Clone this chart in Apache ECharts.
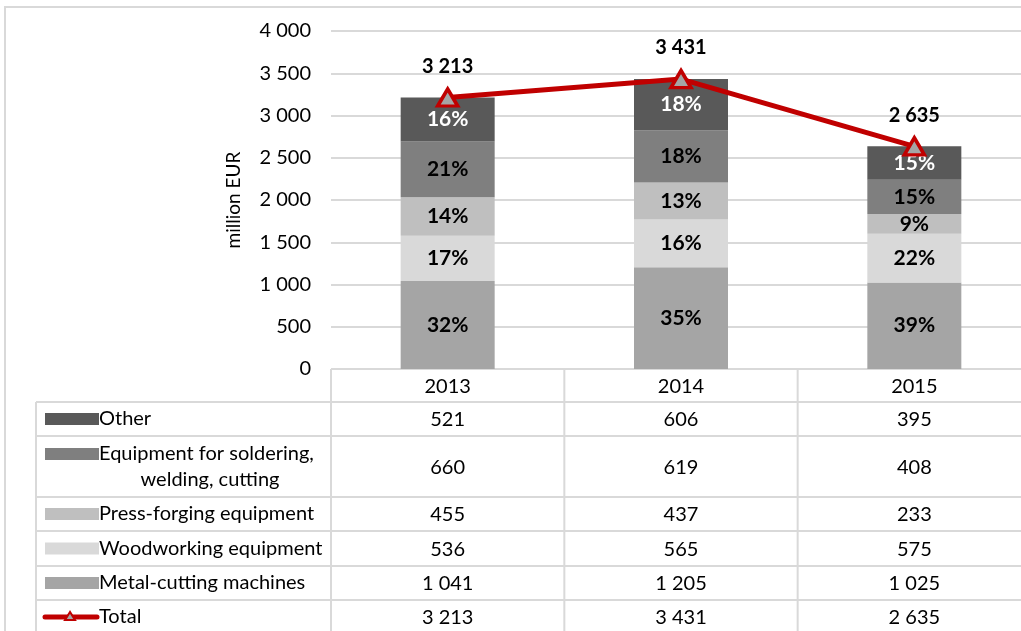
<!DOCTYPE html>
<html><head><meta charset="utf-8">
<script src="https://cdn.jsdelivr.net/npm/echarts@6/dist/echarts.min.js"></script>
<style>html,body{margin:0;padding:0;background:#fff}#c{width:1021px;height:631px}</style>
</head><body><div id="c"></div>
<script>
var years = ['2013', '2014', '2015'];
var other = [521, 606, 395];
var soldering = [660, 619, 408];
var pressForging = [455, 437, 233];
var woodworking = [536, 565, 575];
var metalCutting = [1041, 1205, 1025];
var total = [3213, 3431, 2635];
var seriesNames = ['Other', 'Equipment for soldering, welding, cutting', 'Press-forging equipment', 'Woodworking equipment', 'Metal-cutting machines', 'Total'];
var yTicks = [0, 500, 1000, 1500, 2000, 2500, 3000, 3500, 4000];

var FONT = 'Lato, "Open Sans", sans-serif';
var FS = 20;
var GRID_C = '#d9d9d9';
var colors = {other:'#595959', sold:'#7f7f7f', press:'#bfbfbf', wood:'#d9d9d9', metal:'#a5a5a5', total:'#c00000'};

function fmt(n){ return String(n).replace(/\B(?=(\d{3})+(?!\d))/g, '\u00a0'); }
function pct(arr){ return function(p){ return Math.round(arr[p.dataIndex] / total[p.dataIndex] * 100) + '%'; }; }

var chart = echarts.init(document.getElementById('c'), null, {renderer:'canvas'});

function barSeries(name, data, color, labelColor){
  return {
    name: name, type: 'bar', stack: 'a', data: data, barWidth: 94,
    itemStyle: {color: color},
    label: {show: true, position: 'inside', formatter: pct(data), color: labelColor,
            fontFamily: FONT, fontWeight: 'bold', fontSize: 21},
    emphasis: {disabled: true}, z: 2
  };
}

chart.setOption({
  animation: false,
  grid: {left: 331, top: 31, width: 700, height: 338, containLabel: false, outerBoundsMode: 'none'},
  xAxis: {type: 'category', data: years, axisLine: {show: false}, axisTick: {show: false},
          axisLabel: {show: false}},
  yAxis: {type: 'value', min: yTicks[0], max: yTicks[yTicks.length - 1], interval: yTicks[1] - yTicks[0],
          name: 'million EUR', nameLocation: 'middle', nameGap: 88, nameRotate: 90,
          nameTextStyle: {fontFamily: FONT, fontSize: 19, color: '#000'},
          axisLine: {show: false}, axisTick: {show: false},
          axisLabel: {fontFamily: FONT, fontSize: FS, color: '#000', margin: 20,
                      formatter: function(v){ return fmt(v); }},
          splitLine: {lineStyle: {color: GRID_C, width: 2}}},
  series: [
    barSeries(seriesNames[4], metalCutting, colors.metal, '#000'),
    barSeries(seriesNames[3], woodworking, colors.wood, '#000'),
    barSeries(seriesNames[2], pressForging, colors.press, '#000'),
    barSeries(seriesNames[1], soldering, colors.sold, '#000'),
    barSeries(seriesNames[0], other, colors.other, '#fff'),
    {name: seriesNames[5], type: 'line', data: total, z: 5,
     lineStyle: {color: colors.total, width: 5},
     symbol: 'triangle', symbolSize: [20, 17],
     itemStyle: {color: '#a5a5a5', borderColor: colors.total, borderWidth: 3.5},
     label: {show: true, position: 'top', distance: 11, formatter: function(p){ return fmt(p.value); },
             fontFamily: FONT, fontWeight: 'bold', fontSize: 20, color: '#000'},
     emphasis: {disabled: true}}
  ]
});

// ---- data table below the chart ----
var centers = years.map(function(y){ return chart.convertToPixel({xAxisIndex: 0}, y); });
var colW = centers[1] - centers[0];
var axisX = centers[0] - colW / 2;
var rightX = centers[2] + colW / 2;
var zeroY = chart.convertToPixel({yAxisIndex: 0}, 0);
var tableLeft = 36;
var headerBottom = 402;
var rowH = [34, 61, 34, 35, 34, 34];
var rowData = [other, soldering, pressForging, woodworking, metalCutting, total];
var rowColors = [colors.other, colors.sold, colors.press, colors.wood, colors.metal, null];

var g = [];
var LS = {stroke: GRID_C, lineWidth: 2};
function txt(x, y, s, align){
  return {type: 'text', x: x, y: y, style: {text: s, fontFamily: FONT, fontSize: FS, fill: '#000', align: align || 'center', verticalAlign: 'middle'}};
}
// outer frame
g.push({type: 'rect', shape: {x: 5, y: 7, width: 1100, height: 700}, style: {fill: null, stroke: '#d9d9d9', lineWidth: 2}, silent: true});
// year header
years.forEach(function(y, i){ g.push(txt(centers[i], (zeroY + headerBottom) / 2 + 1, y)); });
// vertical lines
[axisX, axisX + colW, axisX + 2 * colW].forEach(function(x){
  g.push({type: 'line', shape: {x1: x, y1: zeroY, x2: x, y2: 640}, style: LS, silent: true});
});
g.push({type: 'line', shape: {x1: tableLeft, y1: headerBottom, x2: tableLeft, y2: 640}, style: LS, silent: true});
// rows
var yTop = headerBottom;
rowData.forEach(function(arr, r){
  var yMid = yTop + rowH[r] / 2;
  g.push({type: 'line', shape: {x1: tableLeft, y1: yTop, x2: rightX + 10, y2: yTop}, style: LS, silent: true});
  if (r === 1) {
    g.push({type: 'rect', shape: {x: 45, y: yTop + 12, width: 54, height: 12}, style: {fill: rowColors[r]}});
    g.push(txt(99, yTop + 18, 'Equipment for soldering,', 'left'));
    g.push(txt(210, yTop + 44, 'welding, cutting'));
  } else if (r === 5) {
    g.push({type: 'line', shape: {x1: 45, y1: yMid, x2: 97, y2: yMid}, style: {stroke: colors.total, lineWidth: 5, lineCap: 'round'}});
    g.push({type: 'polygon', shape: {points: [[70, yMid - 5], [65, yMid + 3], [75, yMid + 3]]}, style: {fill: '#a5a5a5', stroke: colors.total, lineWidth: 2}});
    g.push(txt(99, yMid, seriesNames[r], 'left'));
  } else {
    g.push({type: 'rect', shape: {x: 45, y: yMid - 6, width: 54, height: 12}, style: {fill: rowColors[r]}});
    g.push(txt(99, yMid, seriesNames[r], 'left'));
  }
  arr.forEach(function(v, i){ g.push(txt(centers[i], yMid + 1, fmt(v))); });
  yTop += rowH[r];
});
g.push({type: 'line', shape: {x1: tableLeft, y1: yTop, x2: rightX + 10, y2: yTop}, style: LS, silent: true});
chart.setOption({graphic: g});
</script></body></html>
